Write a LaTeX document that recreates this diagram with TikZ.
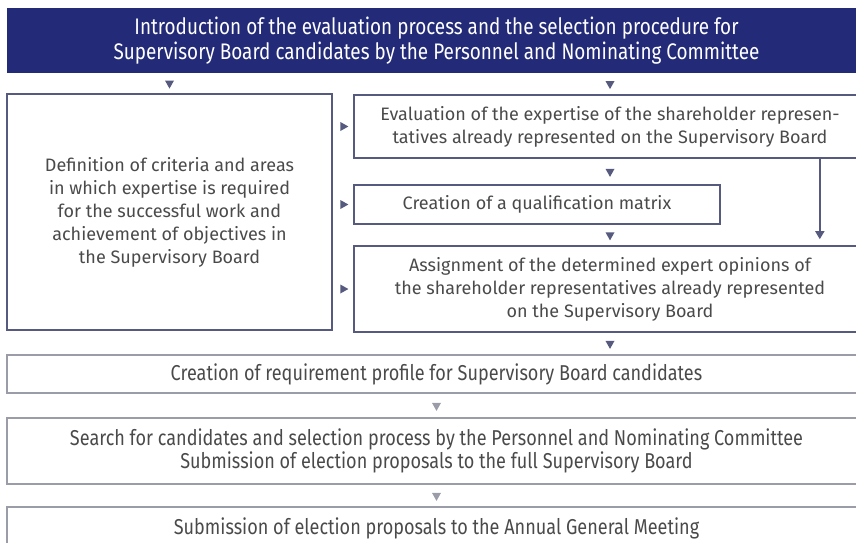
\documentclass[tikz,border=0pt]{standalone}
\usepackage{fontspec}
\setmainfont{Fira Sans}
\newfontfamily\narrowfont[FakeStretch=0.84]{Fira Sans}
\usetikzlibrary{arrows.meta,positioning,calc,shapes.geometric}
\definecolor{navy}{HTML}{232B78}
\definecolor{frame}{HTML}{555A7E}
\definecolor{lightframe}{HTML}{9A9CA8}
\definecolor{txt}{HTML}{4A4A4A}

\begin{document}
\begin{tikzpicture}[x=1pt, y=-1pt,
    box/.style={rectangle, draw=frame, line width=1.6pt, text=txt, align=center, inner sep=0pt, font=\fontsize{18}{23}\selectfont},
    widebox/.style={box, draw=lightframe, minimum width=859pt, font=\narrowfont\fontsize{21.5}{23}\selectfont},
    tridown/.style={isosceles triangle, isosceles triangle apex angle=60, isosceles triangle stretches, shape border rotate=-90, fill=frame, draw=none, inner sep=0pt, minimum width=9pt, minimum height=8pt},
    triright/.style={tridown, shape border rotate=0}]
    \useasboundingbox (0,0) rectangle (856,542);
    \clip (0,0) rectangle (856,542);

    % header band
    \node[rectangle, fill=navy, text=white, align=center, inner sep=0pt, minimum width=859pt, minimum height=65pt, font=\narrowfont\fontsize{22.5}{25}\selectfont] (intro) at (436.5,40.5) {Introduction of the evaluation process and the selection procedure for\\Supervisory Board candidates by the Personnel and Nominating Committee};

    % upper block
    \node[box, minimum width=325pt, minimum height=236pt] (criteria) at (169.5,212) {Definition of criteria and areas\\in which expertise is required\\for the successful work and\\achievement of objectives in\\the Supervisory Board};
    \node[box, minimum width=512pt, minimum height=63pt] (evaluation) at (610,126.5) {Evaluation of the expertise of the shareholder represen-\\tatives already represented on the Supervisory Board};
    \node[box, minimum width=366pt, minimum height=39pt] (matrix) at (537,204.5) {Creation of a qualification matrix};
    \node[box, minimum width=512pt, minimum height=86pt] (assignment) at (610,289) {Assignment of the determined expert opinions of\\the shareholder representatives already represented\\on the Supervisory Board};

    % lower block
    \node[widebox, minimum height=38pt] (profile) at (436.5,374) {Creation of requirement profile for Supervisory Board candidates};
    \node[widebox, minimum height=66pt] (search) at (436.5,451) {Search for candidates and selection process by the Personnel and Nominating Committee\\Submission of election proposals to the full Supervisory Board};
    \node[widebox, minimum height=42pt] (agm) at (436.5,528) {Submission of election proposals to the Annual General Meeting};

    % markers in the gaps
    \path (intro.south -| criteria) -- (criteria.north) node[midway, tridown] {};
    \path (intro.south -| evaluation) -- (evaluation.north) node[midway, tridown] {};
    \path (criteria.east |- evaluation) -- (evaluation.west) node[midway, triright] {};
    \path (criteria.east |- matrix) -- (matrix.west) node[midway, triright] {};
    \path (criteria.east |- assignment) -- (assignment.west) node[midway, triright] {};
    \path (evaluation.south) -- (evaluation.south |- matrix.north) node[midway, tridown] {};
    \path (evaluation.south |- matrix.south) -- (assignment.north) node[midway, tridown] {};
    \path (assignment.south) -- (assignment.south |- profile.north) node[midway, tridown] {};
    \path (profile.south) -- (search.north) node[midway, tridown, fill=lightframe] {};
    \path (search.south) -- (agm.north) node[midway, tridown, fill=lightframe] {};

    % bypass arrow
    \draw[frame, line width=1.6pt, -{Triangle[length=8pt, width=9pt]}, shorten >=6pt] ([xshift=-47pt]evaluation.south east) -- ([xshift=-47pt]evaluation.south east |- assignment.north);
\end{tikzpicture}
\end{document}
